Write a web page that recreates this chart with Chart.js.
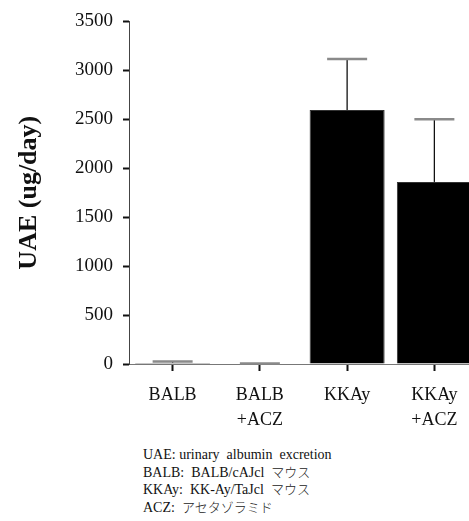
<!DOCTYPE html>
<html>
<head>
<meta charset="utf-8">
<script src="https://cdn.jsdelivr.net/npm/chart.js@4"></script>
<style>
html,body{margin:0;padding:0;background:#fff;width:469px;height:521px;overflow:hidden;}
#wrap{position:absolute;left:0;top:0;width:480px;height:440px;}
#foot{position:absolute;left:143px;top:447px;font-family:"Liberation Serif","Noto Sans CJK JP",serif;font-size:14px;line-height:16.5px;color:#111;white-space:pre;}
.jp{font-family:"Noto Sans CJK JP",sans-serif;font-weight:300;font-size:13px;color:#222;}
</style>
</head>
<body>
<div id="wrap"><canvas id="c" width="480" height="440"></canvas></div>
<div id="foot">UAE: urinary  albumin  excretion
BALB:  BALB/cAJcl  <span class="jp">マウス</span>
KKAy:  KK-Ay/TaJcl  <span class="jp">マウス</span>
ACZ:  <span class="jp">アセタゾラミド</span></div>
<script>
const categories = [["BALB"], ["BALB", "+ACZ"], ["KKAy"], ["KKAy", "+ACZ"]];
const uaeMean = [10, 4, 2595, 1860];
const uaeSD = [15, 2, 520, 640];
const yTicks = [0, 500, 1000, 1500, 2000, 2500, 3000, 3500];

const errorBars = {
  id: 'errorBars',
  afterDatasetsDraw(chart) {
    const ctx = chart.ctx;
    const meta = chart.getDatasetMeta(0);
    const ys = chart.scales.y;
    meta.data.forEach((bar, i) => {
      const yTop = ys.getPixelForValue(uaeMean[i] + uaeSD[i]);
      const yBar = ys.getPixelForValue(uaeMean[i]);
      ctx.save();
      ctx.strokeStyle = '#111';
      ctx.lineWidth = 1.3;
      ctx.beginPath();
      ctx.moveTo(bar.x, yBar);
      ctx.lineTo(bar.x, yTop);
      ctx.stroke();
      ctx.strokeStyle = '#8a8a8a';
      ctx.lineWidth = 2.5;
      ctx.beginPath();
      ctx.moveTo(bar.x - 20, yTop);
      ctx.lineTo(bar.x + 20, yTop);
      ctx.stroke();
      ctx.restore();
    });
  }
};

new Chart(document.getElementById('c'), {
  type: 'bar',
  data: {
    labels: categories,
    datasets: [{
      data: uaeMean,
      backgroundColor: '#000',
      borderColor: '#333',
      borderWidth: 1,
      barPercentage: 0.86,
      categoryPercentage: 1.0
    }]
  },
  options: {
    responsive: false,
    animation: false,
    devicePixelRatio: 1,
    layout: { padding: { top: 19, right: 2, left: 0, bottom: 0 } },
    plugins: { legend: { display: false }, tooltip: { enabled: false } },
    scales: {
      x: {
        grid: { display: true, drawOnChartArea: false, drawTicks: true, tickLength: 7, tickWidth: 2, tickColor: '#111', offset: false },
        border: { display: true, color: '#777', width: 1 },
        ticks: {
          color: '#111',
          padding: 12,
          maxRotation: 0,
          font: { family: 'Liberation Serif', size: 18, lineHeight: 1.39 }
        },
        afterFit(scale) { scale.height = 76; }
      },
      y: {
        min: 0, max: 3500,
        afterBuildTicks(scale) { scale.ticks = yTicks.map(v => ({ value: v })); },
        grid: { display: true, drawOnChartArea: false, drawTicks: true, tickLength: 6, tickWidth: 2, tickColor: '#111' },
        border: { display: true, color: '#444', width: 1 },
        ticks: {
          color: '#111',
          padding: 10,
          font: { family: 'Liberation Serif', size: 19 },
          callback: (v) => String(v)
        },
        title: {
          display: true,
          text: 'UAE (ug/day)',
          color: '#111',
          font: { family: 'Liberation Serif', size: 26, weight: 'bold' },
          padding: { top: 14, bottom: 0 }
        },
        afterFit(scale) { scale.width = 129; }
      }
    }
  },
  plugins: [errorBars]
});
</script>
</body>
</html>
